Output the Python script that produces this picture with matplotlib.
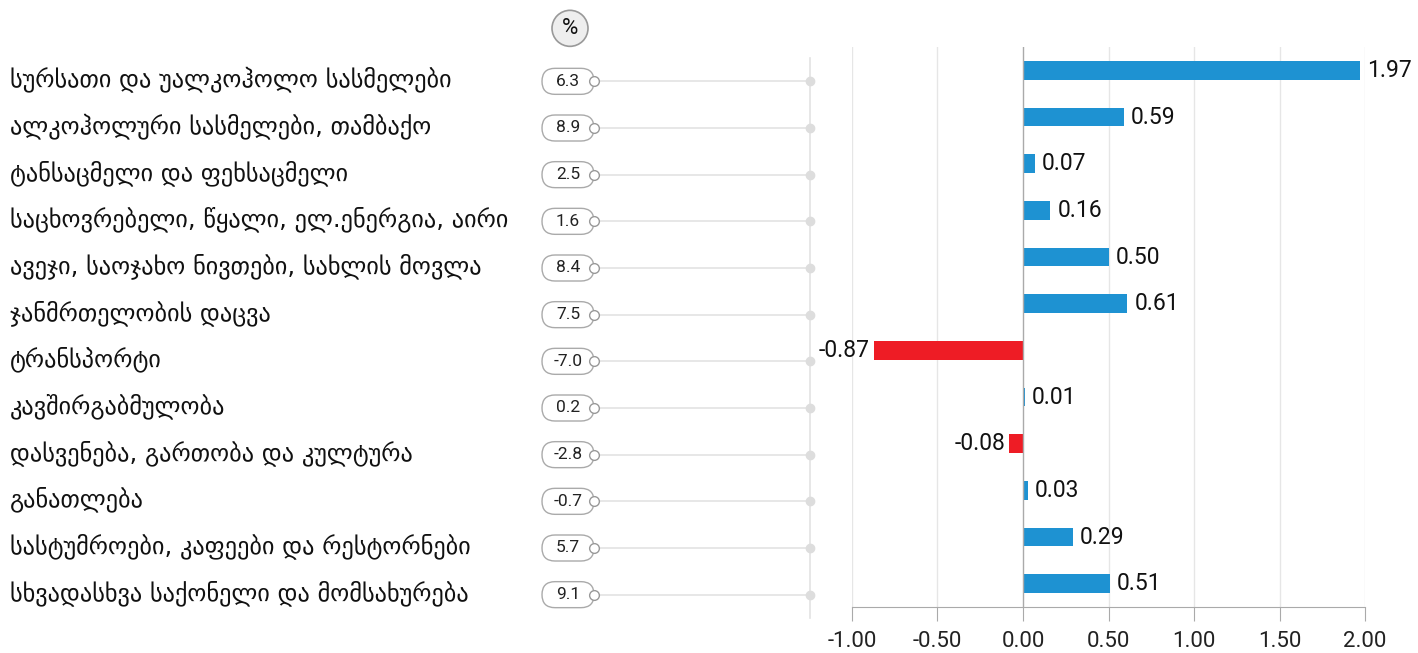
import matplotlib
matplotlib.use("Agg")
import matplotlib.pyplot as plt
from matplotlib.patches import FancyBboxPatch, Ellipse

categories = [
    "სურსათი და უალკოჰოლო სასმელები",
    "ალკოჰოლური სასმელები, თამბაქო",
    "ტანსაცმელი და ფეხსაცმელი",
    "საცხოვრებელი, წყალი, ელ.ენერგია, აირი",
    "ავეჯი, საოჯახო ნივთები, სახლის მოვლა",
    "ჯანმრთელობის დაცვა",
    "ტრანსპორტი",
    "კავშირგაბმულობა",
    "დასვენება, გართობა და კულტურა",
    "განათლება",
    "სასტუმროები, კაფეები და რესტორნები",
    "სხვადასხვა საქონელი და მომსახურება",
]
percent_change = [6.3, 8.9, 2.5, 1.6, 8.4, 7.5, -7.0, 0.2, -2.8, -0.7, 5.7, 9.1]
contribution = [1.97, 0.59, 0.07, 0.16, 0.50, 0.61, -0.87, 0.01, -0.08, 0.03, 0.29, 0.51]
x_ticks = [-1.0, -0.5, 0.0, 0.5, 1.0, 1.5, 2.0]

W, H = 1418, 653
BLUE = "#1e92d2"
RED = "#ee1c25"
NUM_FONT = ['Roboto', 'DejaVu Sans']

plt.rcParams['font.family'] = ['DejaVu Sans']
fig = plt.figure(figsize=(W / 100, H / 100), dpi=100)

bottom = (H - 607) / H
height = 560 / H
n = len(categories)
rows = list(range(n))

# right: contribution bars
ax = fig.add_axes([852 / W, bottom, (1365 - 852) / W, height])
colors = [BLUE if v >= 0 else RED for v in contribution]
ax.barh(rows, contribution, height=0.4, color=colors, zorder=3)
ax.set_xlim(-1, 2)
ax.set_ylim(n - 0.5, -0.5)
ax.set_xticks(x_ticks)
ax.set_xticklabels([f"{t:.2f}" for t in x_ticks], fontsize=16, color="#222222",
                   family=NUM_FONT)
ax.set_yticks([])
for t in x_ticks:
    if t != 0:
        ax.axvline(t, color="#e6e6e6", lw=1, zorder=1)
ax.axvline(0, color="#aaaaaa", lw=1, zorder=4)
for s in ["top", "right", "left"]:
    ax.spines[s].set_visible(False)
ax.spines["bottom"].set_color("#aaaaaa")
ax.tick_params(axis="x", length=10, color="#aaaaaa", pad=7)
for i, v in enumerate(contribution):
    if v >= 0:
        ax.annotate(f"{v:.2f}", (v, i), xytext=(5, 0), textcoords="offset points",
                    ha="left", va="center", fontsize=16.5, color="#111111", family=NUM_FONT)
    else:
        ax.annotate(f"{v:.2f}", (v, i), xytext=(-3, 0), textcoords="offset points",
                    ha="right", va="center", fontsize=16.5, color="#111111", family=NUM_FONT)

# left: category labels and percent pills (x in pixels, y in rows)
lbottom = (H - 618) / H
axl = fig.add_axes([0, lbottom, 852 / W, height])
axl.set_xlim(0, 852)
axl.set_ylim(n - 0.5, -0.5)
axl.axis("off")
row_px = 560 / n
asp = 1 / row_px

axl.plot([810, 810], [-0.5, n - 0.5], color="#e3e3e3", lw=1.2, clip_on=False, zorder=1)
for i, (cat, p) in enumerate(zip(categories, percent_change)):
    axl.text(10, i - 0.04, cat, ha="left", va="center", fontsize=17.5, color="#111111")
    axl.plot([594, 810], [i, i], color="#e3e3e3", lw=1.2, zorder=1)
    axl.plot(810, i, "o", ms=6, color="#dddddd", zorder=2)
    pill = FancyBboxPatch((542, i - 13 * asp), 52, 26 * asp,
                          boxstyle="round,pad=0,rounding_size=13", mutation_aspect=asp,
                          fc="white", ec="#aaaaaa", lw=1, zorder=3)
    axl.add_patch(pill)
    axl.plot(594, i, "o", ms=7, mfc="white", mec="#999999", mew=1, zorder=4)
    axl.text(568, i, f"{p:.1f}", ha="center", va="center", fontsize=12.5, color="#222222",
             family=NUM_FONT, zorder=5)

pct_y = (28 - 81) / row_px
axl.add_patch(Ellipse((570, pct_y), 36, 36 * asp, fc="#eeeeee", ec="#999999", lw=1.2,
                      clip_on=False, zorder=3))
axl.text(570, pct_y, "%", ha="center", va="center", fontsize=16, color="#111111",
         family=NUM_FONT, clip_on=False, zorder=4)

fig.savefig("out.png", dpi=100)
